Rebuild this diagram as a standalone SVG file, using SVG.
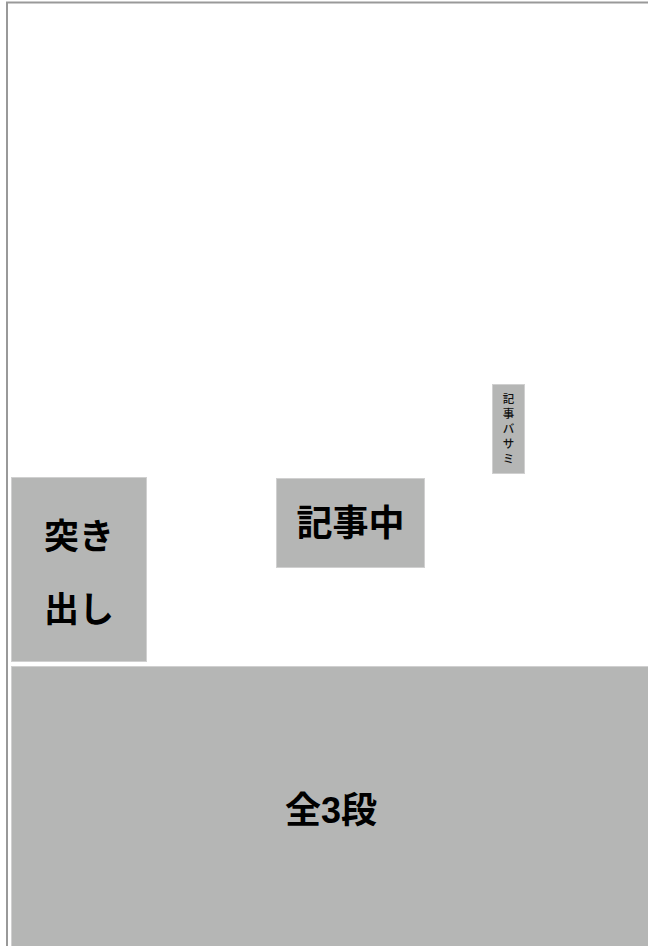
<svg xmlns="http://www.w3.org/2000/svg" width="648" height="946" viewBox="0 0 648 946">
<style>
.box{fill:#b5b6b5;stroke:#d0d0d0;stroke-width:1}
.t{font-family:"Liberation Sans","Noto Sans CJK JP",sans-serif;fill:#000;font-weight:bold;text-anchor:middle}
.s{font-family:"Noto Sans CJK JP",sans-serif;fill:#111;font-weight:500;font-size:11.5px;text-anchor:middle}
</style>
<rect x="0" y="0" width="648" height="946" fill="#fff"/>
<rect x="7" y="2.5" width="700" height="1000" fill="none" stroke="#999" stroke-width="2"/>
<g id="kijibasami">
<rect class="box" x="492.5" y="384.5" width="32" height="89"/>
<text class="s" x="508.5" y="403">記</text>
<text class="s" x="508.5" y="418">事</text>
<text class="s" x="508.5" y="433">バ</text>
<text class="s" x="508.5" y="448">サ</text>
<text class="s" x="508.5" y="463">ミ</text>
</g>
<g id="tsukidashi">
<rect class="box" x="11.5" y="477.5" width="135" height="184"/>
<text class="t" font-size="35" x="79" y="549">突き</text>
<text class="t" font-size="35" x="79" y="622">出し</text>
</g>
<g id="kijinaka">
<rect class="box" x="276.5" y="478.5" width="148" height="89"/>
<text class="t" font-size="36" x="350.5" y="536">記事中</text>
</g>
<g id="zen3dan">
<rect class="box" x="11.5" y="666.5" width="650" height="290"/>
<text class="t" font-size="36" x="331" y="823">全3段</text>
</g>
<g id="connectors"/>
</svg>
